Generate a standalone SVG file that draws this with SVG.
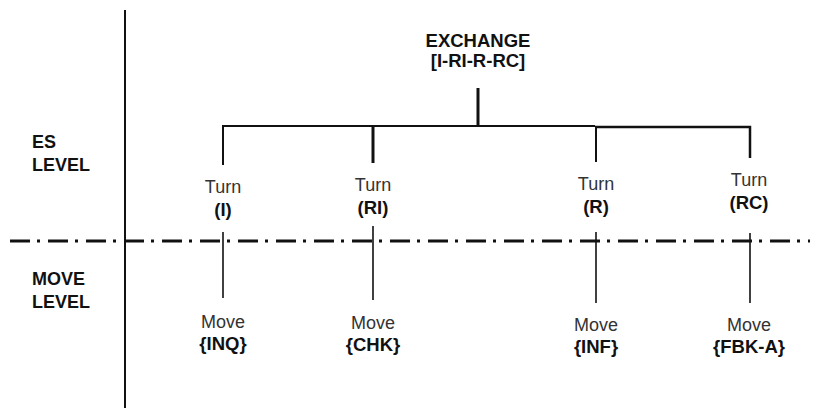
<svg xmlns="http://www.w3.org/2000/svg" width="816" height="408" viewBox="0 0 816 408">
<style>
text{font-family:"Liberation Sans",Arial,sans-serif;fill:#111;text-anchor:middle}
.b{font-weight:bold;font-size:18.5px}
.r{font-size:18px;fill:#333}
.lv{font-weight:bold;font-size:18px;text-anchor:start}
.ln{stroke:#111;fill:none}
</style>
<rect width="816" height="408" fill="#fff"/>
<g id="axis">
<line class="ln" x1="125" y1="10" x2="125" y2="408" stroke-width="2"/>
<line class="ln" x1="10" y1="241" x2="810" y2="241" stroke-width="3" stroke-dasharray="20 7 3 8"/>
</g>
<g id="levels">
<text class="lv" x="32" y="148">ES</text>
<text class="lv" x="32" y="171">LEVEL</text>
<text class="lv" x="32" y="285">MOVE</text>
<text class="lv" x="32" y="308">LEVEL</text>
</g>
<g id="connectors">
<line class="ln" x1="478" y1="88" x2="478" y2="127" stroke-width="3"/>
<polyline class="ln" points="223,165 223,126 595,126" stroke-width="2"/>
<polyline class="ln" points="595,127 750,127 750,158" stroke-width="2.5"/>
<line class="ln" x1="373" y1="126" x2="373" y2="163" stroke-width="3"/>
<line class="ln" x1="596" y1="126" x2="596" y2="162" stroke-width="2"/>
<line class="ln" x1="223" y1="232" x2="223" y2="298" stroke-width="1.6"/>
<line class="ln" x1="373" y1="226" x2="373" y2="300" stroke-width="1.6"/>
<line class="ln" x1="596" y1="232" x2="596" y2="303" stroke-width="1.6"/>
<line class="ln" x1="750" y1="233" x2="750" y2="303" stroke-width="1.6"/>
</g>
<g id="exchange">
<text class="b" x="478" y="47">EXCHANGE</text>
<text class="b" x="478" y="67">[I-RI-R-RC]</text>
</g>
<g id="turn-I"><text class="r" x="223" y="193">Turn</text><text class="b" x="223" y="216">(I)</text></g>
<g id="turn-RI"><text class="r" x="373" y="191">Turn</text><text class="b" x="373" y="214">(RI)</text></g>
<g id="turn-R"><text class="r" x="596" y="190">Turn</text><text class="b" x="596" y="213">(R)</text></g>
<g id="turn-RC"><text class="r" x="749" y="186">Turn</text><text class="b" x="749" y="209">(RC)</text></g>
<g id="move-INQ"><text class="r" x="223" y="328">Move</text><text class="b" x="223" y="350">{INQ}</text></g>
<g id="move-CHK"><text class="r" x="373" y="329">Move</text><text class="b" x="373" y="351">{CHK}</text></g>
<g id="move-INF"><text class="r" x="596" y="331">Move</text><text class="b" x="596" y="353">{INF}</text></g>
<g id="move-FBK"><text class="r" x="749" y="331">Move</text><text class="b" x="749" y="353">{FBK-A}</text></g>
</svg>
